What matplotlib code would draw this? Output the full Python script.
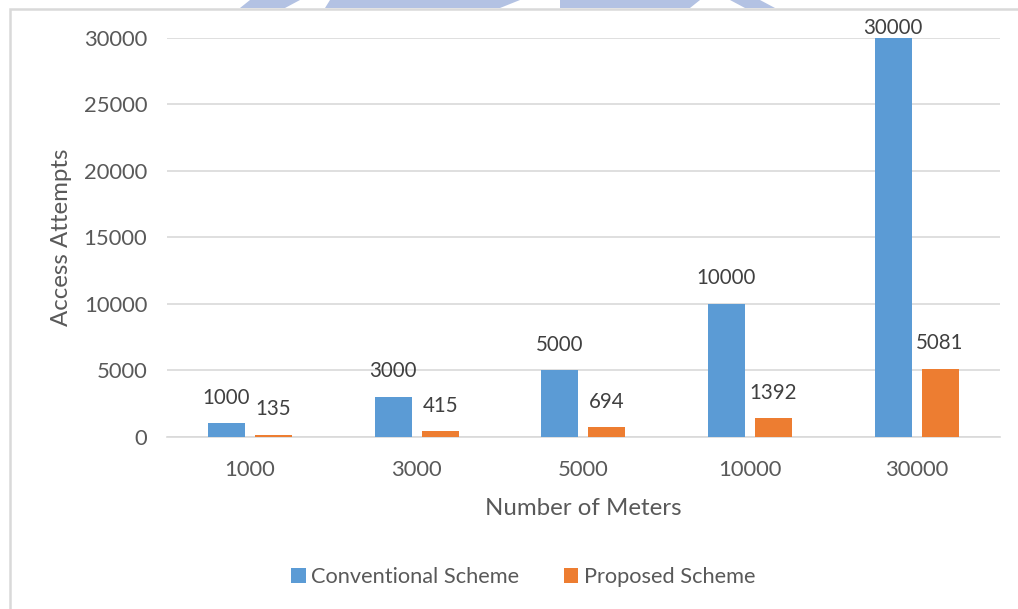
import numpy as np
import matplotlib
matplotlib.use("Agg")
import matplotlib.pyplot as plt
from matplotlib.patches import Rectangle, Polygon

# ── Data ──────────────────────────────────────────────────────────────────────
meters = ["1000", "3000", "5000", "10000", "30000"]
conventional = [1000, 3000, 5000, 10000, 30000]
proposed = [135, 415, 694, 1392, 5081]

BLUE = "#5b9bd5"
ORANGE = "#ed7d31"
GRID = "#d9d9d9"
TICK = "#595959"
LABEL = "#404040"
FONT = "Lato"

fig = plt.figure(figsize=(10.18, 6.09), dpi=100, facecolor="white")
ax = fig.add_axes([0.1636, 0.2829, 0.8187, 0.6547])

x = np.arange(len(meters))
w = 0.222
gap = 0.06
off = (w + gap) / 2
b1 = ax.bar(x - off, conventional, w, color=BLUE, label="Conventional Scheme", zorder=3)
b2 = ax.bar(x + off, proposed, w, color=ORANGE, label="Proposed Scheme", zorder=3)

ax.set_xlim(-0.5, len(meters) - 0.5)
ax.set_ylim(0, 30000)
ax.set_yticks(np.arange(0, 30001, 5000))
ax.set_xticks(x)
ax.set_xticklabels(meters)

ax.grid(axis="y", color=GRID, lw=1.2, zorder=0)
for side in ("top", "right", "left"):
    ax.spines[side].set_visible(False)
ax.spines["bottom"].set_color(GRID)
ax.spines["bottom"].set_linewidth(1.2)
ax.tick_params(length=0, labelsize=15.8, labelcolor=TICK)
ax.tick_params(axis="x", pad=17)
ax.tick_params(axis="y", pad=14)
for t in ax.get_xticklabels() + ax.get_yticklabels():
    t.set_family(FONT)

ax.set_ylabel("Access Attempts", fontsize=17.3, color=TICK, family=FONT, labelpad=8)
ax.set_xlabel("Number of Meters", fontsize=17.3, color=TICK, family=FONT, labelpad=13)

# value labels above bars; top one squeezed down to stay inside the chart
ymax = ax.get_ylim()[1]
for bars, vals in ((b1, conventional), (b2, proposed)):
    for bar, v in zip(bars, vals):
        dy = 7 if v >= ymax else 18.5
        ax.annotate(f"{v}", (bar.get_x() + bar.get_width() / 2, v),
                    xytext=(0, dy), textcoords="offset points",
                    ha="center", va="center", fontsize=14.8,
                    color=LABEL, family=FONT, annotation_clip=False, zorder=4)

leg = fig.legend(loc="center", bbox_to_anchor=(0.514, 0.052), ncol=2,
                 frameon=False, handlelength=0.65, handleheight=0.65,
                 handletextpad=0.25, columnspacing=2.05,
                 prop={"family": FONT, "size": 15.7})
for t in leg.get_texts():
    t.set_color(TICK)

# chart frame
fig.patches.append(Rectangle((9.5 / 1018, -0.1), 1.2, (609 - 9) / 609 + 0.1,
                             transform=fig.transFigure, fill=False,
                             edgecolor=GRID, lw=1.8))

# faint logo strip above the frame
H = 609.0
for xs in ((250, 300, 285, 240), (330, 520, 500, 325), (560, 700, 690, 560),
           (730, 760, 775, 745)):
    pts = [(xs[0] / 1018, 1), (xs[1] / 1018, 1),
           (xs[2] / 1018, 1 - 8 / H), (xs[3] / 1018, 1 - 8 / H)]
    fig.patches.append(Polygon(pts, closed=True, transform=fig.transFigure,
                               facecolor="#b3c2e3", edgecolor="none"))

fig.savefig("out.png", dpi=100, facecolor="white")
